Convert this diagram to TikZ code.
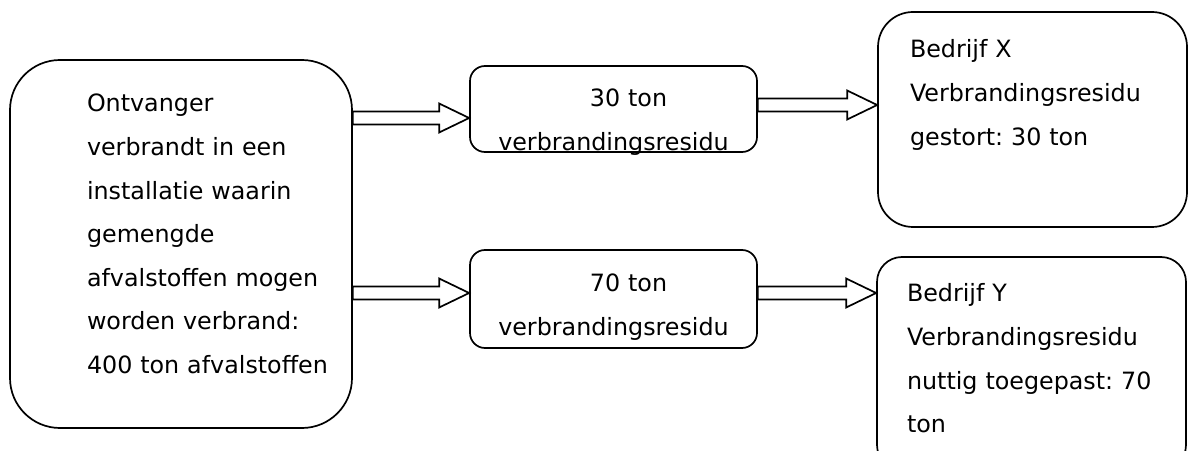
\documentclass[tikz,border=0pt]{standalone}
\usepackage{fontspec}
\setmainfont{DejaVu Sans}
\usetikzlibrary{calc}
\frenchspacing

\begin{document}
\begin{tikzpicture}[
    x=1pt, y=1pt,
    box/.style={draw, line width=1.7pt, inner sep=0pt, align=left, font=\fontsize{23.8}{43.6}\selectfont},
    indent/.style={execute at begin node={\leftskip=#1pt}},
    harrow/.style={draw, line width=1.7pt, fill=white, line join=miter}
]
\useasboundingbox[fill=white] (0,0) rectangle (1188,450);

% Boxes
\node[box, rounded corners=50pt, text width=342pt, text height=52pt, text depth=316pt, indent=77] (ontv) at (181,206)
    {Ontvanger\\verbrandt in een\\installatie waarin\\gemengde\\afvalstoffen mogen\\worden verbrand:\\400 ton afvalstoffen};
\node[box, rounded corners=15pt, align=center, text width=287pt, text height=41pt, text depth=45pt] (r30) at (613.5,341)
    {\hspace*{30pt}30 ton\\verbrandingsresidu};
\node[box, rounded corners=15pt, align=center, text width=287pt, text height=42pt, text depth=56pt] (r70) at (613.5,151)
    {\hspace*{30pt}70 ton\\verbrandingsresidu};
\node[box, rounded corners=35pt, text width=309pt, text height=46pt, text depth=169pt, indent=32] (bedrX) at (1032.5,330.5)
    {Bedrijf X\\Verbrandingsresidu\\gestort: 30 ton};
\node[box, rounded corners=25pt, text width=309pt, text height=45pt, text depth=168pt, indent=30] (bedrY) at (1031.5,86.5)
    {Bedrijf Y\\Verbrandingsresidu\\nuttig toegepast: 70\\ton};

% Arrows
\foreach \a/\b/\yy in {ontv/r30/332, ontv/r70/157, r30/bedrX/345, r70/bedrY/157}
  \draw[harrow] let \p1=(\a.east), \p2=(\b.west) in
    (\x1,\yy+6.5) -- (\x2-30pt,\yy+6.5) -- (\x2-30pt,\yy+14.5) -- (\x2,\yy)
    -- (\x2-30pt,\yy-14.5) -- (\x2-30pt,\yy-6.5) -- (\x1,\yy-6.5) -- cycle;
\end{tikzpicture}
\end{document}
